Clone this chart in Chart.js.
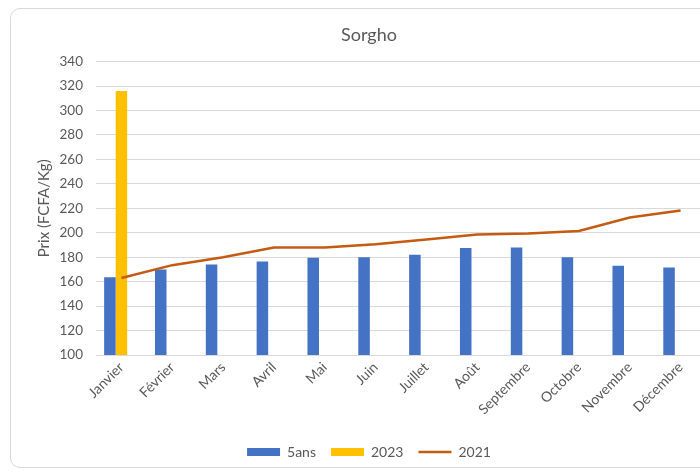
<!DOCTYPE html>
<html>
<head>
<meta charset="utf-8">
<script src="https://cdn.jsdelivr.net/npm/chart.js@4.4.1/dist/chart.umd.min.js"></script>
<style>
  html, body { margin: 0; padding: 0; background: #ffffff; width: 700px; height: 473px; overflow: hidden; }
  #frame { position: absolute; left: 10px; top: 8px; width: 704px; height: 460px; border: 1.5px solid #D9D9D9; border-radius: 10px; box-sizing: border-box; }
  #wrap { position: absolute; left: 0; top: 0; width: 720px; height: 475px; }
</style>
</head>
<body>
<div id="frame"></div>
<div id="wrap"><canvas id="c" width="720" height="475"></canvas></div>
<script>
const months = ["Janvier", "Février", "Mars", "Avril", "Mai", "Juin", "Juillet", "Août", "Septembre", "Octobre", "Novembre", "Décembre"];
const cinqAns = [163.5, 170, 174, 176.5, 179.5, 180, 182, 187.5, 188, 180, 173, 171.5];
const an2023 = [316, null, null, null, null, null, null, null, null, null, null, null];
const vide = [null, null, null, null, null, null, null, null, null, null, null, null];
const an2021 = [163, 173.5, 180, 188, 188, 190.5, 194.5, 198.5, 199.3, 201.5, 212.5, 218.2];
const yTicks = { min: 100, max: 340, step: 20 };

const txt = '#595959';
const fam = 'Lato, "Open Sans", sans-serif';

new Chart(document.getElementById('c'), {
  data: {
    labels: months,
    datasets: [
      { type: 'bar', label: '5ans', data: cinqAns, backgroundColor: '#4472C4', borderWidth: 0, pointStyle: 'rect', order: 2 },
      { type: 'bar', label: '2023', data: an2023, backgroundColor: '#FFC000', borderWidth: 0, pointStyle: 'rect', order: 2 },
      { type: 'bar', label: '', data: vide, backgroundColor: 'rgba(0,0,0,0)', borderWidth: 0, order: 2 },
      { type: 'line', label: '2021', data: an2021, borderColor: '#C55A11', backgroundColor: '#C55A11', borderWidth: 2.5, pointRadius: 0, tension: 0, pointStyle: 'line', order: 1 }
    ]
  },
  options: {
    responsive: false,
    animation: false,
    layout: { padding: { left: 32, right: 14, top: 0, bottom: 6 } },
    datasets: { bar: { categoryPercentage: 0.68, barPercentage: 1.0 } },
    plugins: {
      title: {
        display: true, text: 'Sorgho', color: txt,
        font: { family: fam, size: 18, weight: 'normal' },
        padding: { top: 24, bottom: 16 }
      },
      legend: {
        position: 'bottom',
        labels: {
          color: txt, font: { family: fam, size: 14 },
          usePointStyle: true, pointStyleWidth: 33, boxHeight: 8, padding: 15,
          filter: (item) => item.text !== '',
          sort: (a, b) => a.datasetIndex - b.datasetIndex
        }
      },
      tooltip: { enabled: false }
    },
    scales: {
      x: {
        grid: { display: false, drawTicks: false },
        border: { display: true, color: '#D9D9D9', width: 1 },
        ticks: { color: txt, font: { family: fam, size: 14 }, maxRotation: 45, minRotation: 45, padding: 4 },
        afterFit: (s) => { s.height = 75; }
      },
      y: {
        min: yTicks.min, max: yTicks.max,
        grid: { color: '#D9D9D9', lineWidth: 1, drawTicks: false },
        border: { display: false },
        ticks: { stepSize: yTicks.step, color: txt, font: { family: fam, size: 13.5 }, padding: 13 },
        title: { display: true, text: 'Prix (FCFA/Kg)', color: txt, font: { family: fam, size: 15 }, padding: { top: 3, bottom: 0 } },
        afterFit: (s) => { s.width = 64; }
      }
    }
  }
});
</script>
</body>
</html>
